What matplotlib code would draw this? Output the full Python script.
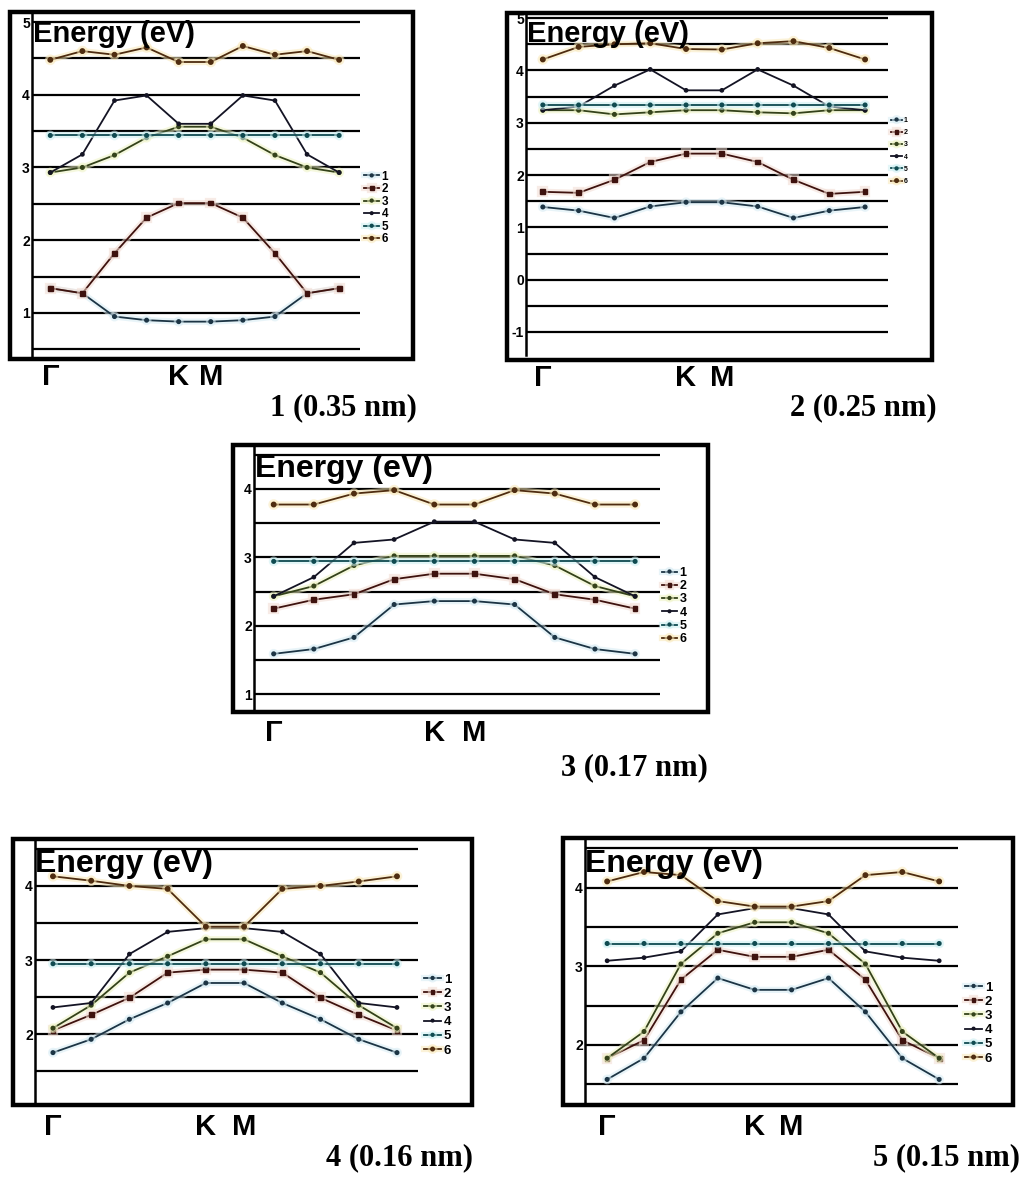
import numpy as np
import matplotlib
matplotlib.use('Agg')
import matplotlib.pyplot as plt
from matplotlib.patches import Rectangle
import matplotlib.patheffects as pe
import matplotlib.transforms as mtransforms

W, H = 1024, 1179

# k-path sample index (Γ ... K M ... Γ)
k_index = [0, 1, 2, 3, 4, 5, 6, 7, 8, 9]
band_labels = ['1', '2', '3', '4', '5', '6']
kpoint_labels = ['Γ', 'K', 'M']
kpoint_pos = [0, 4, 5]

# Panel 1 (0.35 nm)
p1_b1 = [1.34, 1.27, 0.95, 0.90, 0.88, 0.88, 0.90, 0.95, 1.27, 1.34]
p1_b2 = [1.34, 1.27, 1.82, 2.31, 2.51, 2.51, 2.31, 1.82, 1.27, 1.34]
p1_b3 = [2.93, 3.00, 3.17, 3.41, 3.56, 3.56, 3.41, 3.17, 3.00, 2.93]
p1_b4 = [2.93, 3.18, 3.92, 3.99, 3.60, 3.60, 3.99, 3.92, 3.18, 2.93]
p1_b5 = [3.44, 3.44, 3.44, 3.44, 3.44, 3.44, 3.44, 3.44, 3.44, 3.44]
p1_b6 = [4.48, 4.60, 4.55, 4.65, 4.45, 4.45, 4.67, 4.55, 4.60, 4.48]

# Panel 2 (0.25 nm)
p2_b1 = [1.39, 1.32, 1.18, 1.40, 1.48, 1.48, 1.40, 1.18, 1.32, 1.39]
p2_b2 = [1.68, 1.66, 1.91, 2.25, 2.41, 2.41, 2.25, 1.91, 1.64, 1.68]
p2_b3 = [3.24, 3.24, 3.16, 3.20, 3.24, 3.24, 3.20, 3.18, 3.24, 3.24]
p2_b4 = [3.24, 3.31, 3.71, 4.02, 3.62, 3.62, 4.02, 3.71, 3.31, 3.24]
p2_b5 = [3.34, 3.34, 3.34, 3.34, 3.34, 3.34, 3.34, 3.34, 3.34, 3.34]
p2_b6 = [4.21, 4.45, 4.50, 4.52, 4.41, 4.40, 4.52, 4.56, 4.43, 4.21]

# Panel 3 (0.17 nm)
p3_b1 = [1.59, 1.66, 1.83, 2.31, 2.36, 2.36, 2.31, 1.83, 1.66, 1.59]
p3_b2 = [2.25, 2.38, 2.46, 2.68, 2.76, 2.76, 2.68, 2.46, 2.38, 2.25]
p3_b3 = [2.43, 2.58, 2.88, 3.02, 3.02, 3.02, 3.02, 2.88, 2.58, 2.43]
p3_b4 = [2.43, 2.71, 3.21, 3.26, 3.52, 3.52, 3.26, 3.21, 2.71, 2.43]
p3_b5 = [2.94, 2.94, 2.94, 2.94, 2.94, 2.94, 2.94, 2.94, 2.94, 2.94]
p3_b6 = [3.77, 3.77, 3.93, 3.98, 3.77, 3.77, 3.98, 3.93, 3.77, 3.77]

# Panel 4 (0.16 nm)
p4_b1 = [1.75, 1.93, 2.20, 2.42, 2.69, 2.69, 2.42, 2.20, 1.93, 1.75]
p4_b2 = [2.05, 2.26, 2.49, 2.83, 2.87, 2.87, 2.83, 2.49, 2.26, 2.05]
p4_b3 = [2.08, 2.39, 2.83, 3.05, 3.28, 3.28, 3.05, 2.83, 2.39, 2.08]
p4_b4 = [2.36, 2.42, 3.08, 3.38, 3.43, 3.43, 3.38, 3.08, 2.42, 2.36]
p4_b5 = [2.95, 2.95, 2.95, 2.95, 2.95, 2.95, 2.95, 2.95, 2.95, 2.95]
p4_b6 = [4.13, 4.07, 4.00, 3.96, 3.45, 3.45, 3.96, 4.00, 4.06, 4.13]

# Panel 5 (0.15 nm)
p5_b1 = [1.56, 1.83, 2.42, 2.85, 2.70, 2.70, 2.85, 2.42, 1.83, 1.56]
p5_b2 = [1.83, 2.06, 2.83, 3.21, 3.12, 3.12, 3.21, 2.83, 2.06, 1.83]
p5_b3 = [1.83, 2.17, 3.03, 3.42, 3.56, 3.56, 3.42, 3.03, 2.17, 1.83]
p5_b4 = [3.07, 3.11, 3.19, 3.66, 3.74, 3.74, 3.66, 3.19, 3.11, 3.07]
p5_b5 = [3.29, 3.29, 3.29, 3.29, 3.29, 3.29, 3.29, 3.29, 3.29, 3.29]
p5_b6 = [4.08, 4.20, 4.16, 3.83, 3.76, 3.76, 3.83, 4.16, 4.20, 4.08]

captions = ['1 (0.35 nm)', '2 (0.25 nm)', '3 (0.17 nm)', '4 (0.16 nm)', '5 (0.15 nm)']

# styles
line_colors = ['#1c3444', '#3e120e', '#34421a', '#141424', '#0f4a50', '#4e2c10']
glow_colors = ['#d6ebf4', '#f2dcd2', '#eef3c4', None, '#cdeff2', '#f9e8b8']
markers = ['o', 's', 'o', 'o', 'o', 'o']
msizes = [2.6, 3.4, 2.6, 2.4, 2.6, 3.2]

SANS = 'Liberation Sans'
SERIF = 'Liberation Serif'

fig = plt.figure(figsize=(W / 100, H / 100), dpi=100)
fig.patch.set_facecolor('white')


def fx(px):
    return px / W


def fy(py):
    return 1 - py / H


panels = [
    dict(bands=[p1_b1, p1_b2, p1_b3, p1_b4, p1_b5, p1_b6],
         frame=(10, 12, 413, 359), axbox=(32, 14, 360, 358),
         xlim=(-0.57, 9.65), ylim=(0.38, 5.11), grid=(0.5, 5.0),
         energy=(33, 42, 21), kpy=377, cap=(417, 408), leg=(364, 208, 8.5, 0.05, 1.3)),
    dict(bands=[p2_b1, p2_b2, p2_b3, p2_b4, p2_b5, p2_b6],
         frame=(507, 13, 932, 360), axbox=(526, 15, 888, 355),
         xlim=(-0.47, 9.64), ylim=(-1.44, 5.06), grid=(-1.0, 5.0),
         energy=(527, 42, 21), kpy=378, cap=(937, 408), leg=(891, 151, 5, 0.75, 1.6)),
    dict(bands=[p3_b1, p3_b2, p3_b3, p3_b4, p3_b5, p3_b6],
         frame=(233, 445, 708, 712), axbox=(254, 447, 660, 710),
         xlim=(-0.49, 9.62), ylim=(0.77, 4.61), grid=(1.0, 4.5),
         energy=(255, 477, 23), kpy=733, cap=(708, 768), leg=(662, 606, 9, 0.1, 1.2)),
    dict(bands=[p4_b1, p4_b2, p4_b3, p4_b4, p4_b5, p4_b6],
         frame=(13, 839, 472, 1105), axbox=(35, 840, 418, 1103),
         xlim=(-0.47, 9.55), ylim=(1.07, 4.62), grid=(1.5, 4.5),
         energy=(35, 872, 23), kpy=1127, cap=(473, 1158), leg=(424, 1015, 9.5, 0.15, 1.3)),
    dict(bands=[p5_b1, p5_b2, p5_b3, p5_b4, p5_b5, p5_b6],
         frame=(563, 838, 1013, 1105), axbox=(585, 839, 958, 1103),
         xlim=(-0.6, 9.51), ylim=(1.26, 4.62), grid=(1.5, 4.5),
         energy=(585, 872, 23), kpy=1127, cap=(1020, 1158), leg=(965, 1023, 9.5, 0.15, 1.3)),
]

for pi, P in enumerate(panels):
    l, t, r, b = P['frame']
    fig.add_artist(Rectangle((fx(l), fy(b)), fx(r) - fx(l), fy(t) - fy(b),
                             transform=fig.transFigure, fill=False,
                             lw=3.2, ec='black', zorder=5))
    al, at, ar, ab = P['axbox']
    ax = fig.add_axes([fx(al), fy(ab), fx(ar) - fx(al), fy(at) - fy(ab)])
    ax.set_facecolor('none')
    ax.set_xlim(*P['xlim'])
    ax.set_ylim(*P['ylim'])
    ax.set_axisbelow(True)
    ticks = np.arange(P['grid'][0], P['grid'][1] + 0.01, 0.5)
    ax.set_yticks(ticks)
    ax.set_yticklabels([str(int(v)) if abs(v - round(v)) < 1e-6 else '' for v in ticks],
                       fontsize=10, fontweight='bold', family=SANS)
    ax.tick_params(axis='y', length=0, pad=1.5)
    ax.set_xticks([])
    ax.yaxis.grid(True, color='black', lw=1.6)
    for s in ['top', 'right', 'bottom']:
        ax.spines[s].set_visible(False)
    ax.spines['left'].set_linewidth(1.8)

    handles = []
    for i, yb in enumerate(P['bands']):
        effects = [pe.Normal()]
        if glow_colors[i]:
            effects = [pe.Stroke(linewidth=4.5, foreground=glow_colors[i], alpha=0.55),
                       pe.Normal()]
        ln, = ax.plot(k_index, yb, color=line_colors[i], lw=1.3,
                      marker=markers[i], ms=msizes[i], zorder=3 + i * 0.1,
                      path_effects=effects, label=band_labels[i])
        handles.append(ln)

    ex, ey, efs = P['energy']
    fig.text(fx(ex), fy(ey), 'Energy (eV)', fontsize=efs, fontweight='bold',
             family=SANS, ha='left', va='baseline', zorder=10)

    trans = mtransforms.blended_transform_factory(ax.transData, fig.transFigure)
    for lab, pos in zip(kpoint_labels, kpoint_pos):
        ax.text(pos, fy(P['kpy']), lab, transform=trans, ha='center', va='center',
                fontsize=21, fontweight='bold', family=SANS, clip_on=False)

    cx, cy = P['cap']
    fig.text(fx(cx), fy(cy), captions[pi], fontsize=22, fontweight='bold',
             family=SERIF, ha='right', va='center')

    lx, ly, lfs, lsp, hl = P['leg']
    ax.legend(handles=handles, labels=band_labels, loc='center left',
              bbox_to_anchor=(fx(lx), fy(ly)), bbox_transform=fig.transFigure,
              frameon=False, prop={'family': SANS, 'weight': 'bold', 'size': lfs},
              handlelength=hl, handletextpad=0.2, labelspacing=lsp,
              borderpad=0, borderaxespad=0, markerscale=0.8)

fig.savefig('out.png', dpi=100, facecolor='white')
